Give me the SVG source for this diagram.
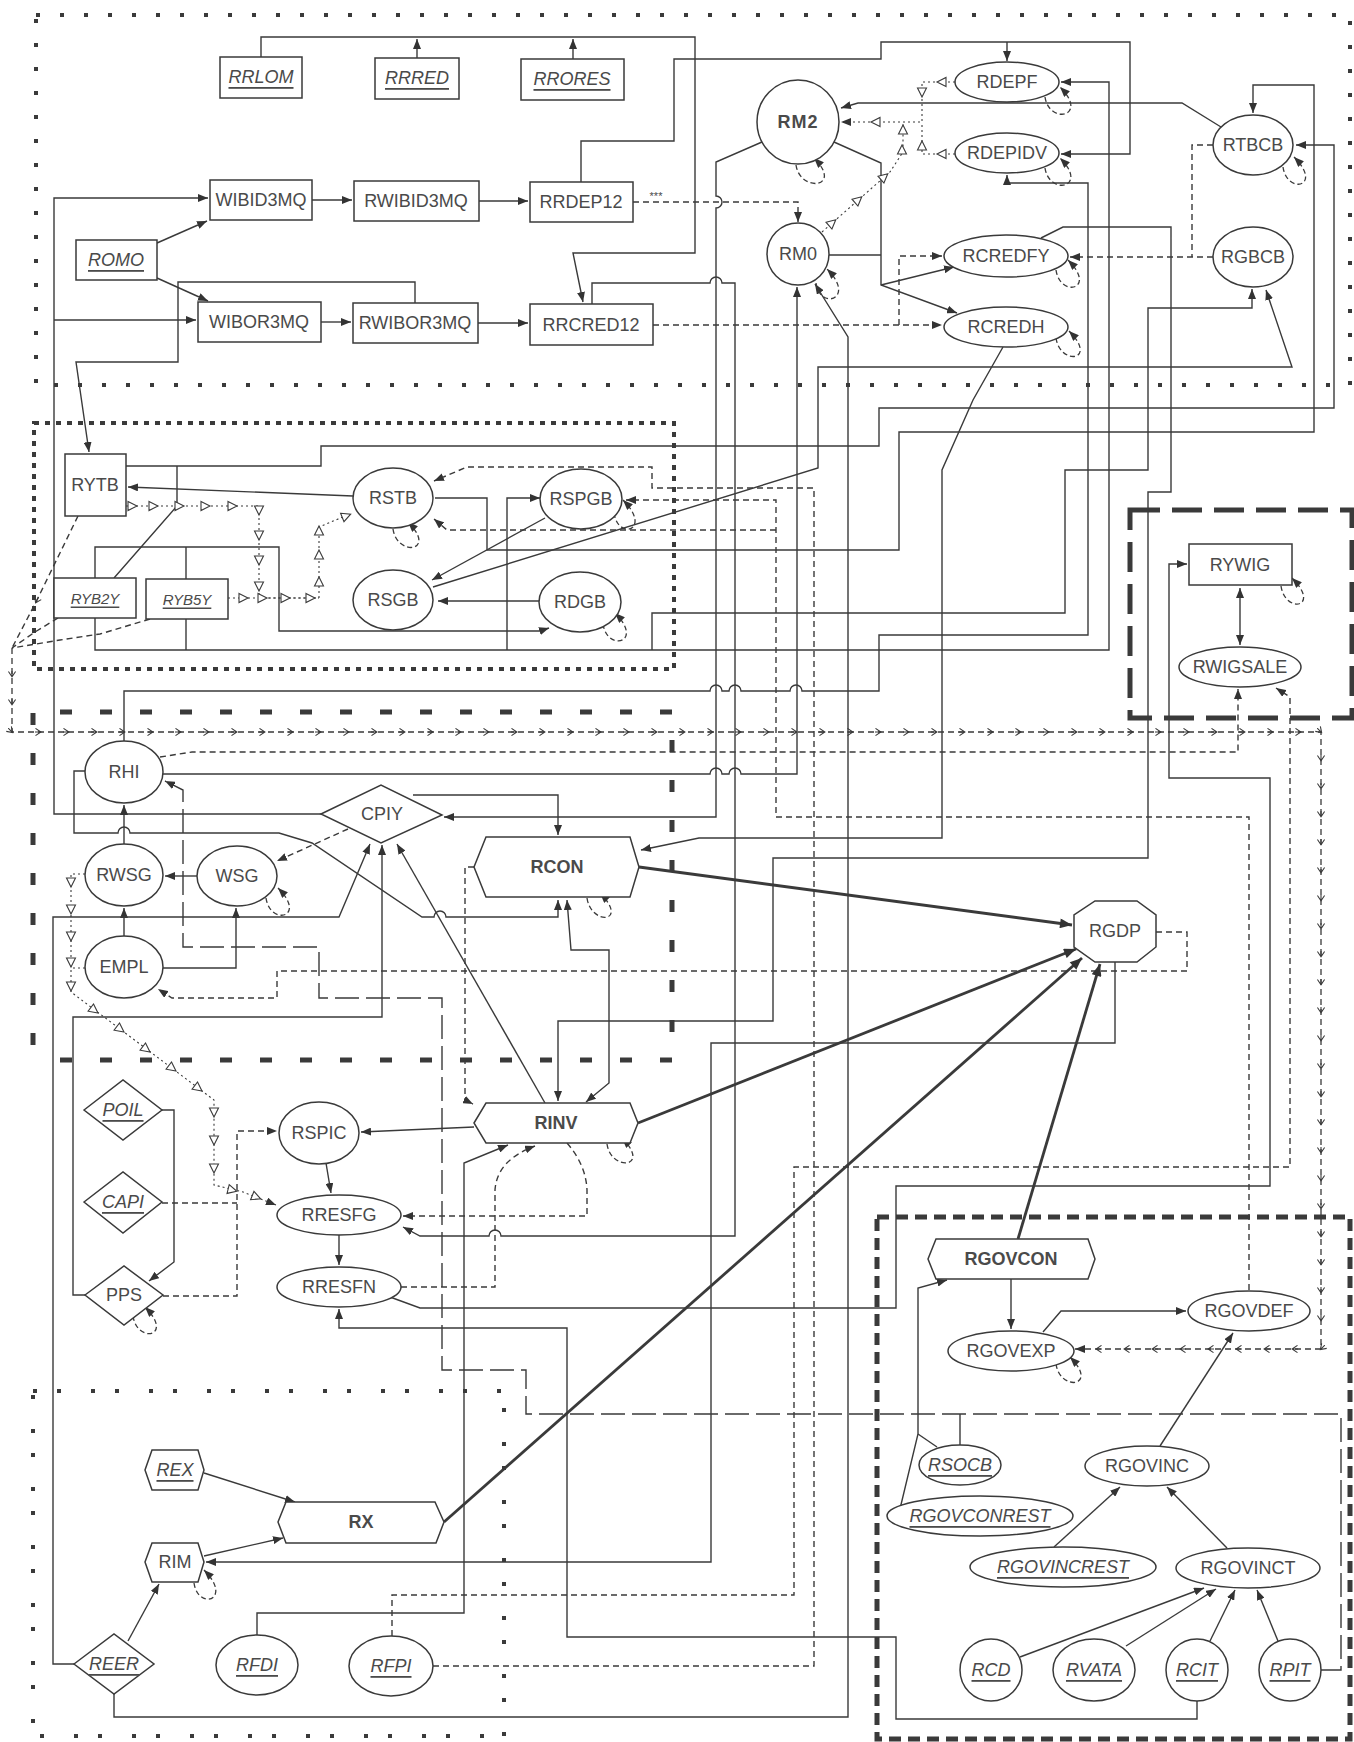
<svg xmlns="http://www.w3.org/2000/svg" xmlns:xlink="http://www.w3.org/1999/xlink" width="1354" height="1742" viewBox="0 0 1354 1742">
<defs>
<style>
.n{fill:#fff;stroke:#3a3a3a;stroke-width:1.5}
.t{font-family:"Liberation Sans",Arial,sans-serif;font-size:18px;fill:#4a4a4a;text-anchor:middle;dominant-baseline:central}
.u{font-style:italic;text-decoration:underline}
.b{font-weight:bold}
.s{font-size:15px}
.c{fill:none;stroke:#3a3a3a;stroke-width:1.4}
.ar{marker-end:url(#a)}
.ab{marker-start:url(#a);marker-end:url(#a)}
.d{stroke-dasharray:6 4}
.ld{stroke-dasharray:24 7}
.dt{stroke-dasharray:2 3;stroke-width:1.1}
.th{stroke-width:2.8;marker-end:url(#A)}
.lp{fill:none;stroke:#3a3a3a;stroke-width:1.3;stroke-dasharray:5 3;marker-end:url(#a)}
.ch{fill:none;stroke:#3a3a3a;stroke-width:1.3;stroke-dasharray:6 4;marker-mid:url(#v)}
.g{fill:none;stroke:#3a3a3a}
.g1{stroke-width:4;stroke-dasharray:4 20}
.g2{stroke-width:4;stroke-dasharray:5 6}
.g3{stroke-width:5;stroke-dasharray:12 28}
.g4{stroke-width:5;stroke-dasharray:30 12}
.g5{stroke-width:5;stroke-dasharray:12 7}
.g6{stroke-width:4;stroke-dasharray:4 20 4 30}
</style>
<marker id="a" viewBox="0 0 10 8" refX="10" refY="4" markerWidth="10" markerHeight="8" markerUnits="userSpaceOnUse" orient="auto-start-reverse"><path d="M0,0 L10,4 L0,8 Z" fill="#333"/></marker>
<marker id="A" viewBox="0 0 12 10" refX="12" refY="5" markerWidth="13" markerHeight="10" markerUnits="userSpaceOnUse" orient="auto"><path d="M0,0 L12,5 L0,10 Z" fill="#333"/></marker>
<marker id="v" viewBox="0 0 10 10" refX="6" refY="5" markerWidth="9" markerHeight="9" markerUnits="userSpaceOnUse" orient="auto"><path d="M1,1 L7,5 L1,9 M0,5 H7" fill="none" stroke="#3a3a3a" stroke-width="1.2"/></marker>
<path id="tri" d="M-4,-4.5 L5,0 L-4,4.5 Z" fill="#fff" stroke="#3a3a3a" stroke-width="1.1"/>
</defs>
<rect width="1354" height="1742" fill="#fff"/>

<g id="groups">
<rect class="g g1" x="36" y="15" width="1314" height="370"/>
<rect class="g g2" x="34" y="423" width="640" height="246"/>
<path class="g g3" d="M33,1045 V712 H672 V1060 H54"/>
<rect class="g g4" x="1130" y="510" width="222" height="208"/>
<rect class="g g5" x="877" y="1217" width="473" height="522"/>
<rect class="g g6" x="33" y="1391" width="471" height="345"/>
</g>

<g id="connectors">
<path class="c ar" d="M261,57 V37 H695 V253 H573 L583,302"/>
<path class="c ar" d="M417,58 V39"/>
<path class="c ar" d="M573,59 V39"/>
<path class="c ar" d="M581,182 V141 H674 V59 H881 V42 H1130 V154 H1061"/>
<path class="c ar" d="M1007,42 V61"/>
<path class="c ar" d="M157,243 L207,221"/>
<path class="c ar" d="M157,278 L208,301"/>
<path class="c ar" d="M321,814 H54 V198 H208"/>
<path class="c ar" d="M54,320 H196"/>
<path class="c ar" d="M312,200 H352"/>
<path class="c ar" d="M479,201 H528"/>
<path class="c ar" d="M321,322 H351"/>
<path class="c ar" d="M478,323 H528"/>
<path class="c ar" d="M415,303 V282 H178 V362 H76 L89,452"/>
<path class="c ar" d="M592,304 V283 H710 a6,6 0 0 1 12,0 H735 V1236 H501 a6,6 0 0 0 -12,0 H420 L403,1227"/>
<path class="c ar" d="M762,142 L716,162 V196 a6,6 0 0 1 0,12 V817 H444"/>
<path class="c d ar" d="M633,202 H798 V222"/>
<text class="t" x="656" y="196" style="font-size:11px">***</text>
<path class="c d ar" d="M653,325 H942"/>
<path class="c d ar" d="M899,325 V256 H942"/>
<path class="c" d="M829,255 H881"/>
<path class="c ar" d="M834,142 L881,163 V285 L957,313"/>
<path class="c ar" d="M881,285 L954,267"/>
<path class="c dt ar" d="M955,82 H922 V122 H841"/>
<path class="c dt" d="M955,154 H922 V122"/>
<path class="c dt" d="M822,232 L890,172 L903,152 V122"/>
<path class="c ar" d="M1221,127 L1182,103 H858 L841,108"/>
<path class="c d" d="M1213,145 H1192 V257"/>
<path class="c d ar" d="M1213,257 H1070"/>
<path class="c ar" d="M435,498 H487 V550 H899 V432 H1314 V85 H1253 V113"/>
<path class="c ar" d="M126,466 H321 V446 H879 V408 H1334 V145 H1296"/>
<path class="c" d="M114,578 L177,506 V466"/>
<path class="c ar" d="M1041,238 L1063,227 H1171 V492 H1148 V858 H773 V1021 H558 V1101"/>
<path class="c ar" d="M95,618 V650 H1109 V82 H1061"/>
<path class="c" d="M186,619 V650"/>
<path class="c ar" d="M507,650 V498 H540"/>
<path class="c ar" d="M124,741 V691 H710 a6,6 0 0 1 12,0 H729 a6,6 0 0 1 12,0 H790 a6,6 0 0 1 12,0 H879 V635 H1088 V183 H1007 V175"/>
<path class="c ar" d="M652,650 V613 H1065 V470 H1148 V308 H1252 V289"/>
<path class="c ar" d="M433,587 L818,468 V367 H1292 L1266,290"/>
<path class="c ar" d="M545,518 L432,580"/>
<path class="c ar" d="M540,601 H438"/>
<path class="c ar" d="M353,496 L128,487"/>
<path class="c ar" d="M95,578 V547 H279 V631 H540 L549,628"/>
<path class="c" d="M186,579 V547"/>
<path class="c dt" d="M126,506 H259 V598 H319 V527 L350,514"/>
<path class="c dt" d="M228,598 H319"/>
<path class="c d ar" d="M433,1666 H814 V488 H652 V467 H467 L434,481"/>
<path class="c d ar" d="M1249,1290 V817 H776 V500 H626"/>
<path class="c d ar" d="M776,530 H447 L434,519"/>
<path class="c d ar" d="M160,757 L192,752 H1238 V689"/>
<path class="c d ar" d="M392,1636 V1595 H794 V1167 H1290 V697 L1276,688"/>
<path class="c ar" d="M390,1297 L420,1308 H896 V1186 H1270 V778 H1169 V564 H1187"/>
<path class="c ab" d="M1240,588 V645"/>
<path class="c ar" d="M163,774 H710 a6,6 0 0 1 12,0 H729 a6,6 0 0 1 12,0 H797 V287"/>
<path class="c ar" d="M114,1694 V1717 H848 V337 L815,284"/>
<path class="c ar" d="M1003,347 L973,400 L942,470 V838 H699 L641,850"/>
<path class="c d ar" d="M1156,932 H1187 V971 H277 V998 H172 L158,989"/>
<path class="c ar" d="M1115,962 V1043 H711 V1562 H206"/>
<path class="c th" d="M639,867 L1072,925"/>
<path class="c th" d="M638,1123 L1076,949"/>
<path class="c th" d="M444,1522 L1082,958"/>
<path class="c th" d="M1018,1239 L1100,964"/>
<path class="c ar" d="M85,771 H74 V833 H118 a6,6 0 0 1 12,0 H279 L312,843 L422,917 H434 a6,6 0 0 1 12,0 H558 V900"/>
<path class="c ar" d="M124,844 V805"/>
<path class="c ar" d="M197,876 H165"/>
<path class="c ar" d="M124,936 V908"/>
<path class="c ar" d="M163,968 H236 V908"/>
<path class="c d ar" d="M348,829 L277,861"/>
<path class="c ar" d="M74,1664 H53 V917 H339 L370,844"/>
<path class="c ar" d="M85,1295 H73 V1017 H382 V845"/>
<path class="c ar" d="M545,1103 L397,844"/>
<path class="c ar" d="M413,795 H558 V835"/>
<path class="c d ar" d="M474,867 H465 V1100 L473,1104"/>
<path class="c ab" d="M567,900 L571,950 H609 V1083 L586,1102"/>
<path class="c ar" d="M474,1127 L361,1132"/>
<path class="c ar" d="M326,1163 L331,1193"/>
<path class="c d ar" d="M163,1296 H237 V1131 H277"/>
<path class="c d" d="M162,1203 H237"/>
<path class="c ar" d="M162,1110 H174 V1262 L149,1281"/>
<path class="c dt ar" d="M85,874 H71 V992 L214,1100 V1185 L243,1192 L276,1205"/>
<path class="c dt" d="M85,968 H71"/>
<path class="c ar" d="M339,1235 V1265"/>
<path class="c d ar" d="M567,1143 Q586,1165 587,1190 V1216 H403"/>
<path class="c d ar" d="M401,1287 H495 V1190 Q497,1160 535,1146"/>
<path class="c ar" d="M257,1635 V1613 H464 V1163 L508,1145"/>
<path class="c ar" d="M1197,1701 V1719 H896 V1637 H567 V1328 H339 V1309"/>
<path class="c ld ar" d="M1321,1670 H1341 V1414 H526 V1370 H442 V998 H319 V947 H183 V790 L165,781"/>
<path class="c ar" d="M128,1641 L159,1584"/>
<path class="c ar" d="M204,1473 L295,1502"/>
<path class="c ar" d="M204,1556 L283,1538"/>
<path class="c ar" d="M1011,1279 V1329"/>
<path class="c ar" d="M1043,1332 L1061,1311 H1186"/>
<path class="c ar" d="M1160,1446 L1233,1333"/>
<path class="c ar" d="M1054,1547 L1120,1487"/>
<path class="c ar" d="M1227,1548 L1167,1487"/>
<path class="c ar" d="M1020,1657 L1204,1588"/>
<path class="c ar" d="M1126,1646 L1216,1589"/>
<path class="c ar" d="M1210,1641 L1235,1590"/>
<path class="c ar" d="M1278,1641 L1257,1590"/>
<path class="c ar" d="M899,1513 L918,1434 V1288 L947,1280"/>
<path class="c" d="M937,1447 L918,1434"/>
<path class="c" d="M960,1445 V1414"/>
<path class="c d" d="M78,516 L36,602 L12,648" marker-mid="url(#v)"/>
<path class="c d" d="M58,618 L35,632 L12,648"/>
<path class="c d" d="M150,619 L100,634 L60,640 L12,648"/>
<path class="ch" marker-end="url(#a)" d="M12,648 v28 v28 v28 h28h28h28h28h28h28h28h28h28h28h28h28h28h28h28h28h28h28h28h28h28h28h28h28h28h28h28h28h28h28h28h28h28h28h28h28h28h28h28h28h28h28h28h28h28h28 h21 v28v28v28v28v28v28v28v28v28v28v28v28v28v28v28v28v28v28v28v28v28 v29 h-28h-28h-28h-28h-28h-28h-28h-28 h-22"/>
<path class="lp" d="M796,165 C800,193 844,188 814,158"/>
<path class="lp" d="M816,283 C820,311 857,299 827,269"/>
<path class="lp" d="M1045,97 C1049,125 1090,117 1060,87"/>
<path class="lp" d="M1045,168 C1049,196 1090,188 1060,158"/>
<path class="lp" d="M1056,270 C1060,298 1098,290 1068,260"/>
<path class="lp" d="M1056,338 C1060,366 1099,361 1069,331"/>
<path class="lp" d="M1283,167 C1287,195 1324,187 1294,157"/>
<path class="lp" d="M393,529 C397,557 438,552 408,522"/>
<path class="lp" d="M614,513 C618,541 653,530 623,500"/>
<path class="lp" d="M603,624 C607,652 645,643 615,613"/>
<path class="lp" d="M266,898 C270,926 308,918 278,888"/>
<path class="lp" d="M587,898 C591,926 630,923 600,893"/>
<path class="lp" d="M607,1144 C611,1172 652,1168 622,1138"/>
<path class="lp" d="M133,1316 C137,1344 175,1337 145,1307"/>
<path class="lp" d="M194,1583 C198,1611 234,1600 204,1570"/>
<path class="lp" d="M1056,1364 C1060,1392 1100,1387 1070,1357"/>
<path class="lp" d="M1281,586 C1285,614 1322,608 1292,578"/>
<use href="#tri" transform="translate(942,82) rotate(180)"/>
<use href="#tri" transform="translate(922,92) rotate(90)"/>
<use href="#tri" transform="translate(922,146) rotate(-90)"/>
<use href="#tri" transform="translate(942,154) rotate(180)"/>
<use href="#tri" transform="translate(903,130) rotate(-90)"/>
<use href="#tri" transform="translate(876,122) rotate(180)"/>
<use href="#tri" transform="translate(832,223) rotate(-41)"/>
<use href="#tri" transform="translate(858,200) rotate(-41)"/>
<use href="#tri" transform="translate(884,177) rotate(-41)"/>
<use href="#tri" transform="translate(902,150) rotate(-90)"/>
<use href="#tri" transform="translate(132,506)"/>
<use href="#tri" transform="translate(153,506)"/>
<use href="#tri" transform="translate(179,506)"/>
<use href="#tri" transform="translate(205,506)"/>
<use href="#tri" transform="translate(232,506)"/>
<use href="#tri" transform="translate(259,510) rotate(90)"/>
<use href="#tri" transform="translate(259,535) rotate(90)"/>
<use href="#tri" transform="translate(259,560) rotate(90)"/>
<use href="#tri" transform="translate(259,586) rotate(90)"/>
<use href="#tri" transform="translate(243,598)"/>
<use href="#tri" transform="translate(262,598)"/>
<use href="#tri" transform="translate(285,598)"/>
<use href="#tri" transform="translate(310,598)"/>
<use href="#tri" transform="translate(319,582) rotate(-90)"/>
<use href="#tri" transform="translate(319,555) rotate(-90)"/>
<use href="#tri" transform="translate(319,531) rotate(-90)"/>
<use href="#tri" transform="translate(346,516) rotate(-22)"/>
<use href="#tri" transform="translate(71,882) rotate(90)"/>
<use href="#tri" transform="translate(71,909) rotate(90)"/>
<use href="#tri" transform="translate(71,936) rotate(90)"/>
<use href="#tri" transform="translate(71,962) rotate(90)"/>
<use href="#tri" transform="translate(71,986) rotate(90)"/>
<use href="#tri" transform="translate(94,1010) rotate(37)"/>
<use href="#tri" transform="translate(120,1029) rotate(37)"/>
<use href="#tri" transform="translate(146,1049) rotate(37)"/>
<use href="#tri" transform="translate(172,1068) rotate(37)"/>
<use href="#tri" transform="translate(198,1088) rotate(37)"/>
<use href="#tri" transform="translate(214,1112) rotate(90)"/>
<use href="#tri" transform="translate(214,1140) rotate(90)"/>
<use href="#tri" transform="translate(214,1168) rotate(90)"/>
<use href="#tri" transform="translate(232,1190) rotate(14)"/>
<use href="#tri" transform="translate(256,1197) rotate(22)"/>
</g>

<g id="n-RRLOM"><rect class="n" x="220" y="57" width="82" height="41"/><text class="t u" x="261" y="77">RRLOM</text></g>
<g id="n-RRRED"><rect class="n" x="375" y="58" width="84" height="41"/><text class="t u" x="417" y="78">RRRED</text></g>
<g id="n-RRORES"><rect class="n" x="521" y="59" width="103" height="41"/><text class="t u" x="572" y="79">RRORES</text></g>
<g id="n-WIBID3MQ"><rect class="n" x="210" y="180" width="102" height="40"/><text class="t" x="261" y="200">WIBID3MQ</text></g>
<g id="n-RWIBID3MQ"><rect class="n" x="354" y="181" width="125" height="40"/><text class="t" x="416" y="201">RWIBID3MQ</text></g>
<g id="n-RRDEP12"><rect class="n" x="530" y="182" width="103" height="40"/><text class="t" x="581" y="202">RRDEP12</text></g>
<g id="n-ROMO"><rect class="n" x="76" y="240" width="81" height="40"/><text class="t u" x="116" y="260">ROMO</text></g>
<g id="n-WIBOR3MQ"><rect class="n" x="198" y="302" width="123" height="40"/><text class="t" x="259" y="322">WIBOR3MQ</text></g>
<g id="n-RWIBOR3MQ"><rect class="n" x="353" y="303" width="125" height="40"/><text class="t" x="415" y="323">RWIBOR3MQ</text></g>
<g id="n-RRCRED12"><rect class="n" x="530" y="304" width="123" height="41"/><text class="t" x="591" y="325">RRCRED12</text></g>
<g id="n-RM2"><ellipse class="n" cx="798" cy="122" rx="41" ry="42"/><text class="t b" x="798" y="122" style="letter-spacing:1px">RM2</text></g>
<g id="n-RM0"><ellipse class="n" cx="798" cy="254" rx="31" ry="31"/><text class="t" x="798" y="254">RM0</text></g>
<g id="n-RDEPF"><ellipse class="n" cx="1007" cy="82" rx="52" ry="20"/><text class="t" x="1007" y="82">RDEPF</text></g>
<g id="n-RDEPIDV"><ellipse class="n" cx="1007" cy="153" rx="52" ry="20"/><text class="t" x="1007" y="153">RDEPIDV</text></g>
<g id="n-RCREDFY"><ellipse class="n" cx="1006" cy="256" rx="62" ry="21"/><text class="t" x="1006" y="256">RCREDFY</text></g>
<g id="n-RCREDH"><ellipse class="n" cx="1006" cy="327" rx="62" ry="20"/><text class="t" x="1006" y="327">RCREDH</text></g>
<g id="n-RTBCB"><ellipse class="n" cx="1253" cy="145" rx="40" ry="30"/><text class="t" x="1253" y="145">RTBCB</text></g>
<g id="n-RGBCB"><ellipse class="n" cx="1253" cy="257" rx="40" ry="30"/><text class="t" x="1253" y="257">RGBCB</text></g>
<g id="n-RYTB"><rect class="n" x="65" y="454" width="61" height="62"/><text class="t" x="95" y="485">RYTB</text></g>
<g id="n-RYB2Y"><rect class="n" x="54" y="578" width="82" height="40"/><text class="t u s" x="95" y="598">RYB2Y</text></g>
<g id="n-RYB5Y"><rect class="n" x="146" y="579" width="82" height="40"/><text class="t u s" x="187" y="599">RYB5Y</text></g>
<g id="n-RSTB"><ellipse class="n" cx="393" cy="498" rx="40" ry="30"/><text class="t" x="393" y="498">RSTB</text></g>
<g id="n-RSPGB"><ellipse class="n" cx="581" cy="499" rx="41" ry="30"/><text class="t" x="581" y="499">RSPGB</text></g>
<g id="n-RSGB"><ellipse class="n" cx="393" cy="600" rx="40" ry="30"/><text class="t" x="393" y="600">RSGB</text></g>
<g id="n-RDGB"><ellipse class="n" cx="580" cy="602" rx="41" ry="30"/><text class="t" x="580" y="602">RDGB</text></g>
<g id="n-RYWIG"><rect class="n" x="1189" y="544" width="103" height="41"/><text class="t" x="1240" y="565">RYWIG</text></g>
<g id="n-RWIGSALE"><ellipse class="n" cx="1240" cy="667" rx="61" ry="20"/><text class="t" x="1240" y="667">RWIGSALE</text></g>
<g id="n-RHI"><ellipse class="n" cx="124" cy="772" rx="39" ry="31"/><text class="t" x="124" y="772">RHI</text></g>
<g id="n-CPIY"><polygon class="n" points="321,814 381,785 442,815 381,843"/><text class="t" x="382" y="814">CPIY</text></g>
<g id="n-RWSG"><ellipse class="n" cx="124" cy="875" rx="39" ry="31"/><text class="t" x="124" y="875">RWSG</text></g>
<g id="n-WSG"><ellipse class="n" cx="237" cy="876" rx="40" ry="30"/><text class="t" x="237" y="876">WSG</text></g>
<g id="n-EMPL"><ellipse class="n" cx="124" cy="967" rx="39" ry="31"/><text class="t" x="124" y="967">EMPL</text></g>
<g id="n-RCON"><polygon class="n" points="474,867 486,837 630,837 639,867 630,897 486,897"/><text class="t b" x="557" y="867">RCON</text></g>
<g id="n-RGDP"><polygon class="n" points="1095,901 1137,901 1156,915 1156,947 1137,962 1095,962 1074,947 1074,915"/><text class="t" x="1115" y="931">RGDP</text></g>
<g id="n-RINV"><polygon class="n" points="474,1123 486,1103 630,1103 638,1123 630,1143 486,1143"/><text class="t b" x="556" y="1123">RINV</text></g>
<g id="n-RSPIC"><ellipse class="n" cx="319" cy="1133" rx="40" ry="31"/><text class="t" x="319" y="1133">RSPIC</text></g>
<g id="n-POIL"><polygon class="n" points="84,1110 123,1080 162,1110 123,1140"/><text class="t u" x="123" y="1110">POIL</text></g>
<g id="n-CAPI"><polygon class="n" points="84,1202 123,1172 162,1202 123,1233"/><text class="t u" x="123" y="1202">CAPI</text></g>
<g id="n-PPS"><polygon class="n" points="85,1295 124,1266 163,1295 124,1325"/><text class="t" x="124" y="1295">PPS</text></g>
<g id="n-RRESFG"><ellipse class="n" cx="339" cy="1215" rx="62" ry="20"/><text class="t" x="339" y="1215">RRESFG</text></g>
<g id="n-RRESFN"><ellipse class="n" cx="339" cy="1287" rx="62" ry="20"/><text class="t" x="339" y="1287">RRESFN</text></g>
<g id="n-REX"><polygon class="n" points="145,1470 152,1450 198,1450 204,1470 198,1490 152,1490"/><text class="t u" x="175" y="1470">REX</text></g>
<g id="n-RX"><polygon class="n" points="278,1522 286,1502 435,1502 444,1522 436,1543 286,1543"/><text class="t b" x="361" y="1522">RX</text></g>
<g id="n-RIM"><polygon class="n" points="145,1562 152,1543 198,1543 204,1562 198,1582 152,1582"/><text class="t" x="175" y="1562">RIM</text></g>
<g id="n-REER"><polygon class="n" points="74,1664 114,1634 154,1664 114,1694"/><text class="t u" x="114" y="1664">REER</text></g>
<g id="n-RFDI"><ellipse class="n" cx="257" cy="1665" rx="41" ry="30"/><text class="t u" x="257" y="1665">RFDI</text></g>
<g id="n-RFPI"><ellipse class="n" cx="391" cy="1666" rx="42" ry="30"/><text class="t u" x="391" y="1666">RFPI</text></g>
<g id="n-RGOVCON"><polygon class="n" points="928,1259 936,1239 1088,1239 1095,1259 1088,1279 936,1279"/><text class="t b" x="1011" y="1259">RGOVCON</text></g>
<g id="n-RGOVEXP"><ellipse class="n" cx="1011" cy="1351" rx="63" ry="20"/><text class="t" x="1011" y="1351">RGOVEXP</text></g>
<g id="n-RGOVDEF"><ellipse class="n" cx="1249" cy="1311" rx="61" ry="20"/><text class="t" x="1249" y="1311">RGOVDEF</text></g>
<g id="n-RSOCB"><ellipse class="n" cx="960" cy="1465" rx="41" ry="20"/><text class="t u" x="960" y="1465">RSOCB</text></g>
<g id="n-RGOVINC"><ellipse class="n" cx="1147" cy="1466" rx="62" ry="20"/><text class="t" x="1147" y="1466">RGOVINC</text></g>
<g id="n-RGOVCONREST"><ellipse class="n" cx="980" cy="1516" rx="93" ry="20"/><text class="t u" x="980" y="1516">RGOVCONREST</text></g>
<g id="n-RGOVINCREST"><ellipse class="n" cx="1063" cy="1567" rx="93" ry="20"/><text class="t u" x="1063" y="1567">RGOVINCREST</text></g>
<g id="n-RGOVINCT"><ellipse class="n" cx="1248" cy="1568" rx="72" ry="20"/><text class="t" x="1248" y="1568">RGOVINCT</text></g>
<g id="n-RCD"><ellipse class="n" cx="991" cy="1670" rx="31" ry="31"/><text class="t u" x="991" y="1670">RCD</text></g>
<g id="n-RVATA"><ellipse class="n" cx="1094" cy="1670" rx="41" ry="31"/><text class="t u" x="1094" y="1670">RVATA</text></g>
<g id="n-RCIT"><ellipse class="n" cx="1197" cy="1670" rx="31" ry="31"/><text class="t u" x="1197" y="1670">RCIT</text></g>
<g id="n-RPIT"><ellipse class="n" cx="1290" cy="1670" rx="31" ry="31"/><text class="t u" x="1290" y="1670">RPIT</text></g>
</svg>
